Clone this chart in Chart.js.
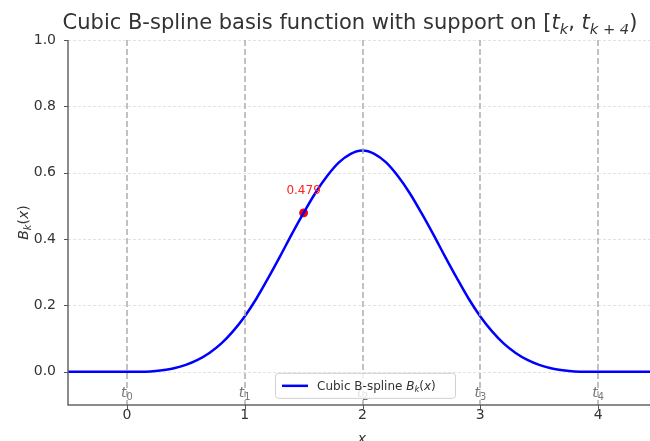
<!DOCTYPE html>
<html>
<head>
<meta charset="utf-8">
<script src="https://cdn.jsdelivr.net/npm/chart.js@4"></script>
<style>
  html, body { margin: 0; padding: 0; background: #fff; overflow: hidden; }
  #wrap { width: 650px; height: 441px; overflow: hidden; }
</style>
</head>
<body>
<div id="wrap"><canvas id="bspline" width="662" height="441"></canvas></div>
<script>
// Curve samples (x step 0.1)
const xValues = [-0.5, -0.4, -0.3, -0.2, -0.1, 0.0, 0.1, 0.2, 0.3, 0.4, 0.5, 0.6, 0.7, 0.8, 0.9,
  1.0, 1.1, 1.2, 1.3, 1.4, 1.5, 1.6, 1.7, 1.8, 1.9, 2.0, 2.1, 2.2, 2.3, 2.4, 2.5, 2.6, 2.7, 2.8, 2.9,
  3.0, 3.1, 3.2, 3.3, 3.4, 3.5, 3.6, 3.7, 3.8, 3.9, 4.0, 4.1, 4.2, 4.3, 4.4, 4.5];
const yValues = [0, 0, 0, 0, 0, 0, 0.000, 0.001, 0.005, 0.011, 0.021, 0.036, 0.057, 0.085, 0.122,
  0.167, 0.221, 0.283, 0.348, 0.415, 0.479, 0.539, 0.590, 0.631, 0.657, 0.667, 0.657, 0.631, 0.590, 0.539,
  0.479, 0.415, 0.348, 0.283, 0.221, 0.167, 0.122, 0.085, 0.057, 0.036, 0.021, 0.011, 0.005, 0.001, 0.000,
  0, 0, 0, 0, 0, 0];

const knots = [0, 1, 2, 3, 4];
const knotLabels = ['0', '1', '2', '3', '4'];
const xTicks = [0, 1, 2, 3, 4];
const yTicks = [0.0, 0.2, 0.4, 0.6, 0.8, 1.0];

const markX = 1.5;
const markY = 0.479;

const FONT = '"DejaVu Sans", sans-serif';

// draw pieces of text: [text, italic, sub]
const drawRich = (ctx, parts, x, y, size, align) => {
  const fontFor = (p) => (p[1] ? 'italic ' : '') + (p[2] ? size * 0.7 : size) + 'px ' + FONT;
  let total = 0;
  parts.forEach(p => { ctx.font = fontFor(p); total += ctx.measureText(p[0]).width; });
  let cx = align === 'center' ? x - total / 2 : (align === 'right' ? x - total : x);
  ctx.textAlign = 'left';
  ctx.textBaseline = 'alphabetic';
  parts.forEach(p => {
    ctx.font = fontFor(p);
    ctx.fillText(p[0], cx, p[2] ? y + size * 0.22 : y);
    cx += ctx.measureText(p[0]).width;
  });
  return total;
};

const decor = {
  id: 'decor',
  beforeDatasetsDraw(chart) {
    const { ctx, chartArea: a, scales: { y } } = chart;
    ctx.save();
    // horizontal grid
    ctx.strokeStyle = '#dcdcdc';
    ctx.lineWidth = 0.8;
    ctx.setLineDash([3, 2]);
    yTicks.forEach(v => {
      const py = Math.round(y.getPixelForValue(v)) + 0.5;
      ctx.beginPath(); ctx.moveTo(a.left, py); ctx.lineTo(a.right, py); ctx.stroke();
    });
    ctx.restore();
  },
  afterDatasetsDraw(chart) {
    const { ctx, chartArea: a, scales: { x, y } } = chart;
    ctx.save();
    // knot lines
    ctx.strokeStyle = '#adadad';
    ctx.lineWidth = 1.5;
    ctx.setLineDash([6, 3]);
    knots.forEach(k => {
      const px = Math.round(x.getPixelForValue(k));
      ctx.beginPath(); ctx.moveTo(px, a.top); ctx.lineTo(px, a.bottom); ctx.stroke();
    });
    ctx.setLineDash([]);
    // knot labels
    ctx.fillStyle = '#777';
    knots.forEach((k, i) => {
      drawRich(ctx, [['t', true, false], [knotLabels[i], false, true]],
        x.getPixelForValue(k), y.getPixelForValue(-0.077), 14, 'center');
    });
    // spines
    ctx.strokeStyle = '#666';
    ctx.lineWidth = 1.5;
    ctx.beginPath();
    ctx.moveTo(a.left, a.top); ctx.lineTo(a.left, a.bottom); ctx.lineTo(a.right, a.bottom);
    ctx.stroke();
    // tick marks
    ctx.lineWidth = 1;
    ctx.strokeStyle = '#555';
    yTicks.forEach(v => {
      const py = Math.round(y.getPixelForValue(v)) + 0.5;
      ctx.beginPath(); ctx.moveTo(a.left - 4, py); ctx.lineTo(a.left, py); ctx.stroke();
    });
    xTicks.forEach(v => {
      const px = Math.round(x.getPixelForValue(v)) + 0.5;
      ctx.beginPath(); ctx.moveTo(px, a.bottom); ctx.lineTo(px, a.bottom + 4); ctx.stroke();
    });
    // point label
    ctx.fillStyle = '#ff2020';
    ctx.font = '12px ' + FONT;
    ctx.textAlign = 'center';
    ctx.textBaseline = 'middle';
    ctx.fillText(markY.toFixed(3), x.getPixelForValue(markX), y.getPixelForValue(markY) - 22);
    // legend
    const lw = 180, lh = 25;
    const lx = 275, ly = y.getPixelForValue(0) + 1;
    ctx.fillStyle = 'rgba(255,255,255,0.8)';
    ctx.strokeStyle = '#d0d0d0';
    ctx.lineWidth = 1;
    ctx.beginPath();
    ctx.roundRect(lx + 0.5, ly + 0.5, lw, lh, 3);
    ctx.fill(); ctx.stroke();
    ctx.strokeStyle = '#0000ff';
    ctx.lineWidth = 2.5;
    ctx.beginPath(); ctx.moveTo(lx + 7, ly + 13); ctx.lineTo(lx + 33, ly + 13); ctx.stroke();
    ctx.fillStyle = '#333';
    drawRich(ctx, [['Cubic B-spline ', false, false], ['B', true, false], ['k', true, true],
      ['(', false, false], ['x', true, false], [')', false, false]], lx + 42, ly + 17, 12, 'left');
    // title
    ctx.fillStyle = '#333';
    drawRich(ctx, [['Cubic B-spline basis function with support on [', false, false],
      ['t', true, false], ['k', true, true], [', ', false, false], ['t', true, false],
      ['k + 4', true, true], [')', false, false]], 350, 29, 21, 'center');
    // axis titles
    drawRich(ctx, [['x', true, false]], 362, 443, 14, 'center');
    ctx.translate(28, (a.top + a.bottom) / 2);
    ctx.rotate(-Math.PI / 2);
    drawRich(ctx, [['B', true, false], ['k', true, true], ['(', false, false], ['x', true, false],
      [')', false, false]], 0, 0, 14, 'center');
    ctx.restore();
  }
};

const points = xValues.map((v, i) => ({ x: v, y: yValues[i] }));

new Chart(document.getElementById('bspline'), {
  type: 'line',
  data: {
    datasets: [{
      label: 'Cubic B-spline',
      data: points,
      borderColor: '#0000ff',
      borderWidth: 2.5,
      pointRadius: 0,
      cubicInterpolationMode: 'monotone',
      fill: false
    }, {
      label: 'mark',
      data: [{ x: markX, y: markY }],
      showLine: false,
      pointRadius: 4,
      pointBackgroundColor: '#ff0000',
      pointBorderColor: '#ff0000'
    }]
  },
  options: {
    responsive: false,
    animation: false,
    layout: { padding: { top: 40, left: 0, right: 0, bottom: 0 } },
    plugins: { legend: { display: false }, tooltip: { enabled: false }, title: { display: false } },
    scales: {
      x: {
        type: 'linear',
        min: -0.5,
        max: 4.5,
        afterBuildTicks: (s) => { s.ticks = xTicks.map(v => ({ value: v })); },
        afterFit: (s) => { s.height = 36; },
        grid: { display: false },
        border: { display: false },
        ticks: { color: '#333', font: { family: FONT, size: 14 }, padding: -6, maxRotation: 0,
          callback: (v) => String(v) }
      },
      y: {
        min: -0.1,
        max: 1.0,
        afterBuildTicks: (s) => { s.ticks = yTicks.map(v => ({ value: v })); },
        afterFit: (s) => { s.width = 68; },
        grid: { display: false },
        border: { display: false },
        ticks: { color: '#333', font: { family: FONT, size: 14 }, padding: 4,
          callback: (v) => Number(v).toFixed(1) }
      }
    }
  },
  plugins: [decor]
});
</script>
</body>
</html>
